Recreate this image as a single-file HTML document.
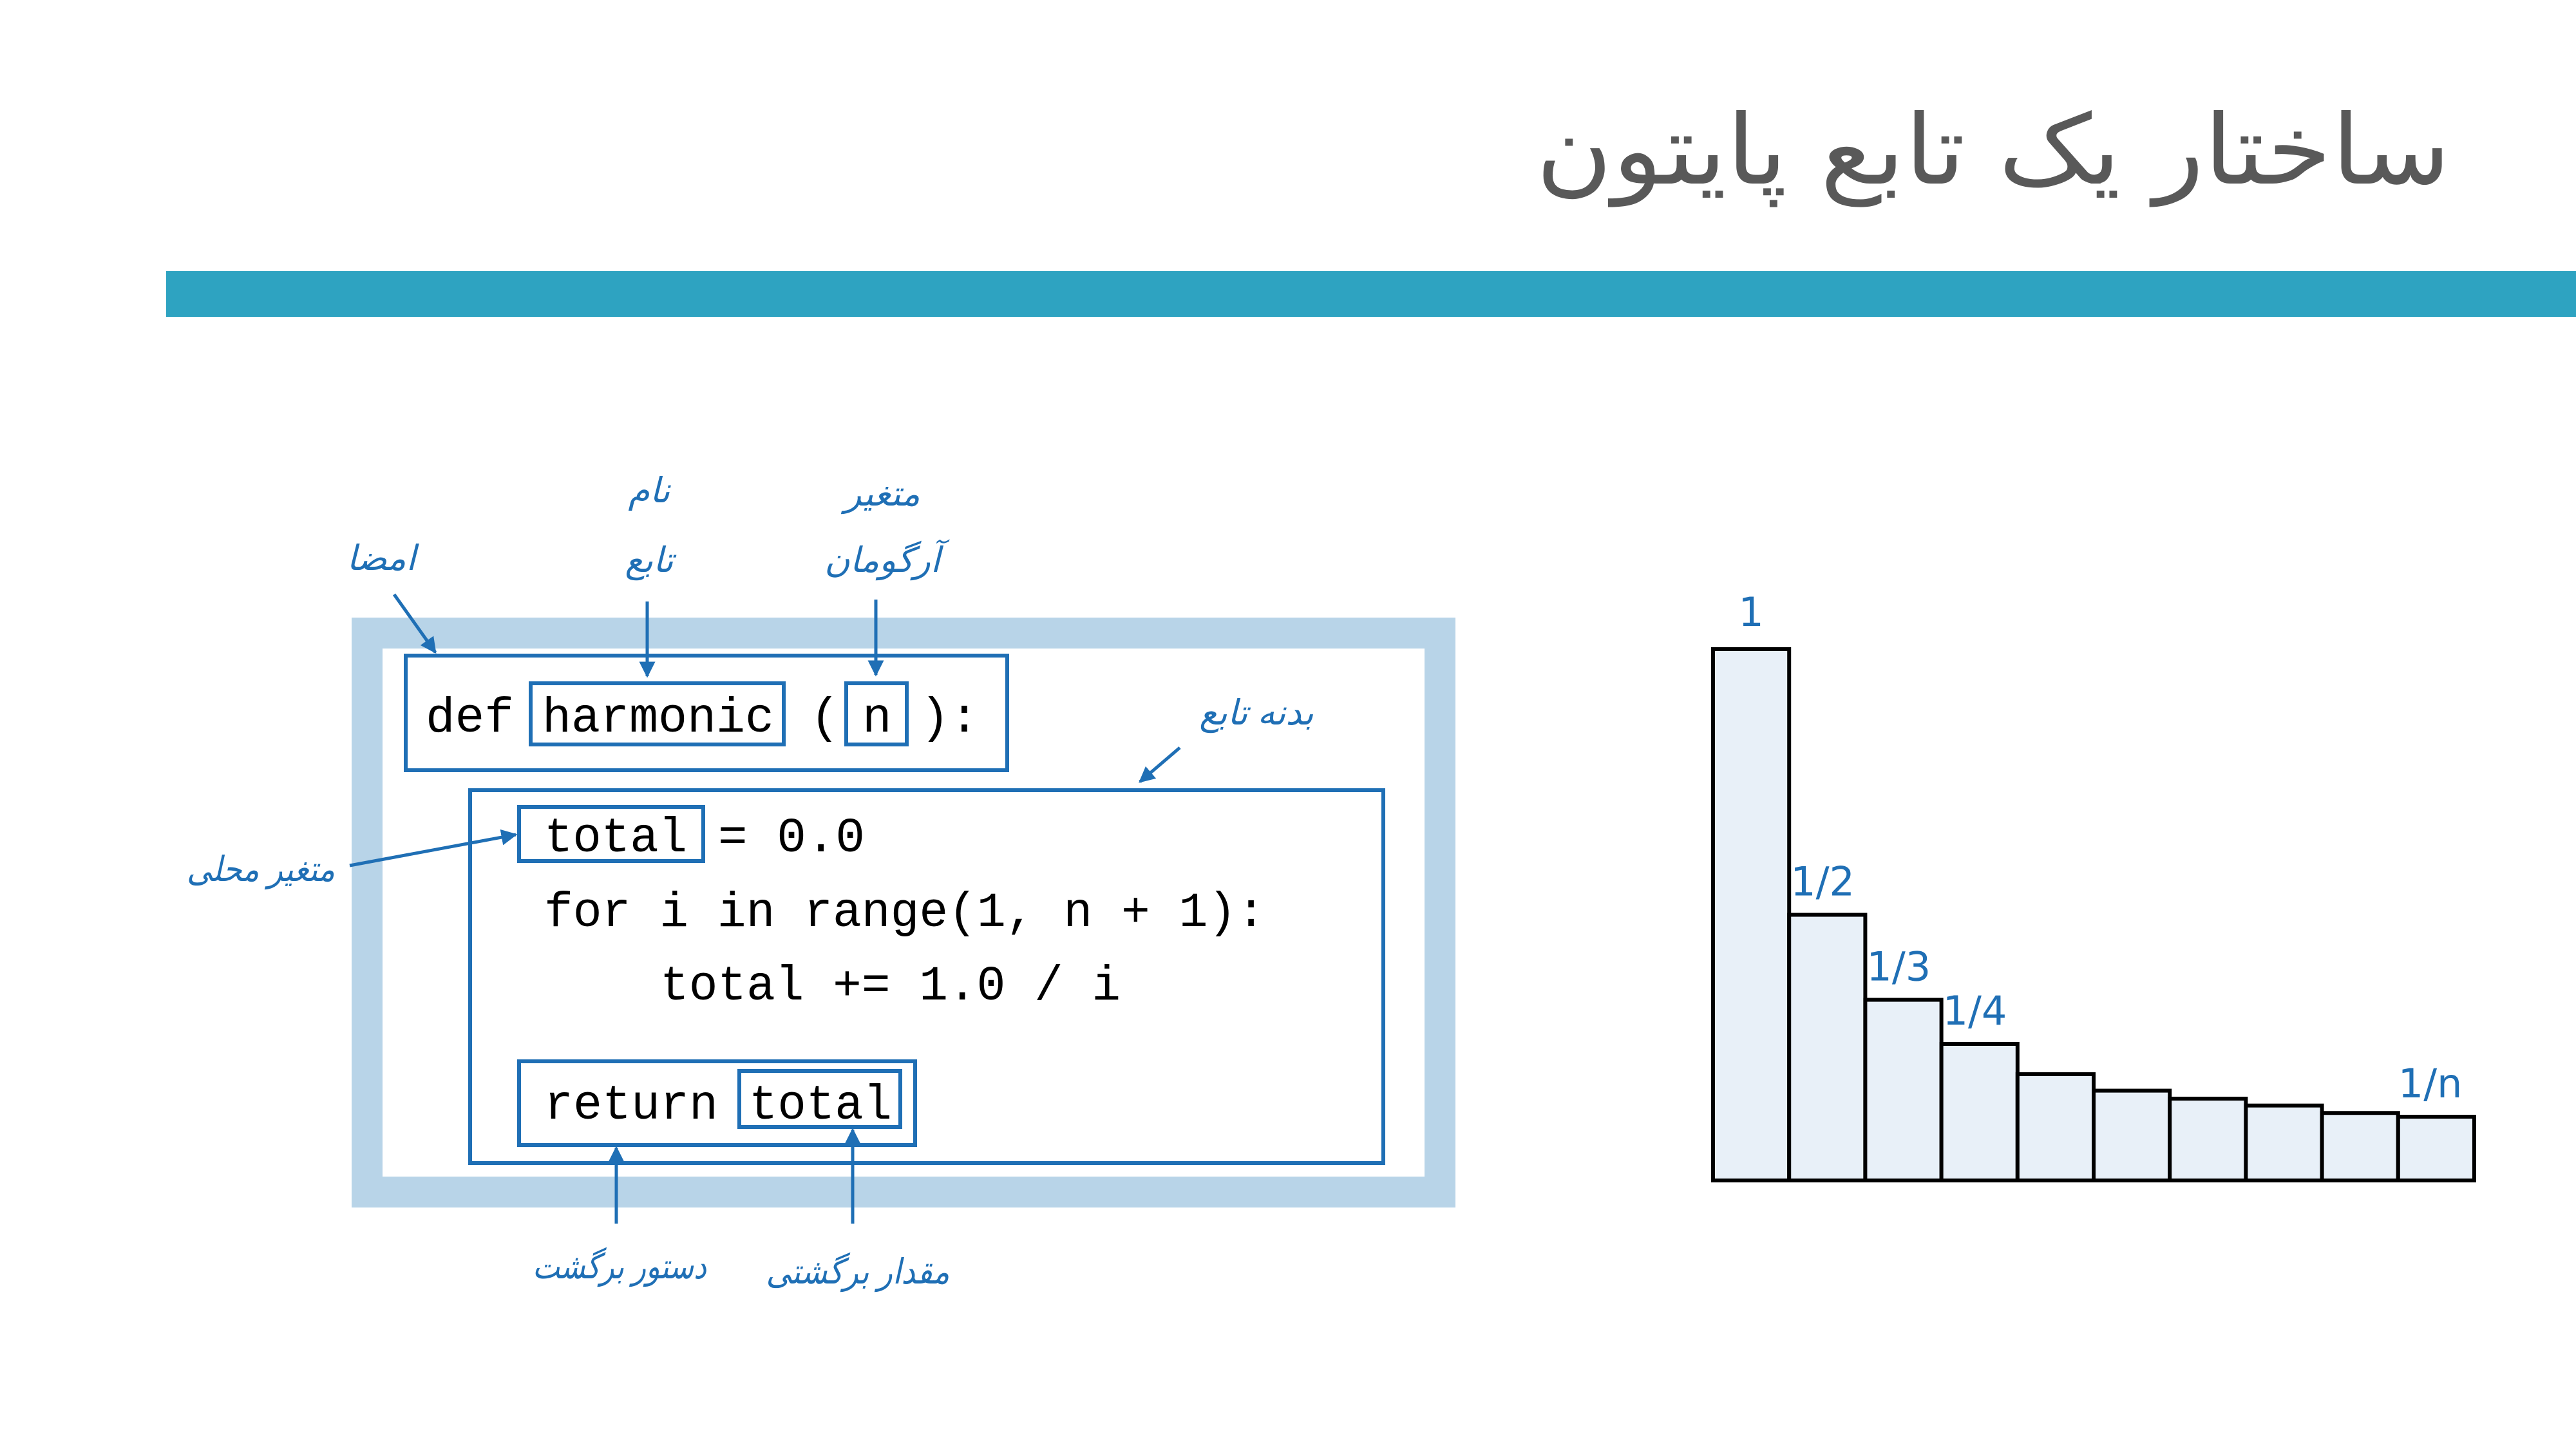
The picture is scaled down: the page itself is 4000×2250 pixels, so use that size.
<!DOCTYPE html>
<html><head><meta charset="utf-8">
<style>
html,body{margin:0;padding:0;background:#fff;}
svg{display:block;}
.fa{font-family:"Liberation Sans","DejaVu Sans",sans-serif;fill:#1f6fb5;font-style:italic;}
.code{font-family:"Liberation Mono","DejaVu Sans Mono",monospace;fill:#000;font-size:76px;}
</style></head>
<body>
<svg id="root" width="4000" height="2250" viewBox="0 0 4000 2250" xmlns="http://www.w3.org/2000/svg">
<defs>
<marker id="ar" viewBox="0 0 10 10" refX="9" refY="5" markerWidth="5" markerHeight="5" orient="auto-start-reverse">
<path d="M0,0 L10,5 L0,10 z" fill="#1f6fb5"/></marker>
</defs>
<text x="3805" y="285" text-anchor="end" font-family="'DejaVu Sans',sans-serif" font-size="150" fill="#595959" textLength="1420" lengthAdjust="spacingAndGlyphs">ساختار یک تابع پایتون</text>
<rect x="258" y="421" width="3742" height="71" fill="#2ea3c1"/>

<g>
<rect x="570" y="983" width="1666" height="868" fill="none" stroke="#b8d4e8" stroke-width="48"/>
<rect x="630" y="1018" width="934" height="178" fill="none" stroke="#1f6fb5" stroke-width="6"/>
<rect x="824" y="1061" width="393" height="95" fill="none" stroke="#1f6fb5" stroke-width="6"/>
<rect x="1314" y="1061" width="94" height="95" fill="none" stroke="#1f6fb5" stroke-width="6"/>
<rect x="730" y="1227" width="1418" height="579" fill="none" stroke="#1f6fb5" stroke-width="6"/>
<rect x="806" y="1253" width="286" height="84" fill="none" stroke="#1f6fb5" stroke-width="6"/>
<rect x="806" y="1648" width="615" height="130" fill="none" stroke="#1f6fb5" stroke-width="6"/>
<rect x="1148" y="1663" width="250" height="87" fill="none" stroke="#1f6fb5" stroke-width="6"/>

<text class="code" x="661" y="1136">def</text>
<text class="code" x="842" y="1136" textLength="360" lengthAdjust="spacingAndGlyphs">harmonic</text>
<text class="code" x="1258" y="1136">(</text>
<text class="code" x="1339" y="1136">n</text>
<text class="code" x="1429" y="1136">):</text>
<text class="code" x="845" y="1322" textLength="222" lengthAdjust="spacingAndGlyphs">total</text>
<text class="code" x="1115" y="1322">= 0.0</text>
<text class="code" x="845" y="1438" textLength="1120" lengthAdjust="spacingAndGlyphs">for i in range(1, n + 1):</text>
<text class="code" x="1025" y="1552" textLength="715" lengthAdjust="spacingAndGlyphs">total += 1.0 / i</text>
<text class="code" x="845" y="1737" textLength="270" lengthAdjust="spacingAndGlyphs">return</text>
<text class="code" x="1163" y="1737" textLength="222" lengthAdjust="spacingAndGlyphs">total</text>

<g stroke="#1f6fb5" stroke-width="5" fill="none" marker-end="url(#ar)">
<line x1="612" y1="923" x2="676" y2="1013"/>
<line x1="1005" y1="934" x2="1005" y2="1050"/>
<line x1="1360" y1="931" x2="1360" y2="1048"/>
<line x1="1832" y1="1161" x2="1770" y2="1214"/>
<line x1="543" y1="1344" x2="801" y2="1296"/>
<line x1="957" y1="1900" x2="957" y2="1782"/>
<line x1="1324" y1="1900" x2="1324" y2="1754"/>
</g>
<g font-size="54" text-anchor="middle">
<text class="fa" x="592" y="885">امضا</text>
<text class="fa" x="1008" y="780">نام</text>
<text class="fa" x="1008" y="888">تابع</text>
<text class="fa" x="1370" y="785">متغیر</text>
<text class="fa" x="1370" y="888">آرگومان</text>
<text class="fa" x="1951" y="1125">بدنه تابع</text>
<text class="fa" x="405" y="1368" textLength="230" lengthAdjust="spacingAndGlyphs">متغیر محلی</text>
<text class="fa" x="962" y="1985" textLength="270" lengthAdjust="spacingAndGlyphs">دستور برگشت</text>
<text class="fa" x="1332" y="1993" textLength="285" lengthAdjust="spacingAndGlyphs">مقدار برگشتی</text>
</g>
</g>

<g id="chart"></g>
</svg>
<script>
const categories = ["1","2","3","4","5","6","7","8","9","10"];
const values = [1, 0.5, 0.34, 0.257, 0.2, 0.169, 0.154, 0.141, 0.127, 0.12];
const barLabels = ["1","1/2","1/3","1/4","","","","","","1/n"];

const NS = "http://www.w3.org/2000/svg";
const g = document.getElementById('chart');
const x0 = 2660, x1 = 3842, yBase = 1833, yTop = 1008;
const bw = (x1 - x0) / categories.length;
const xPos = i => x0 + i * bw;
const yPos = v => yBase - v * (yBase - yTop);
categories.forEach((c, i) => {
  const r = document.createElementNS(NS, 'rect');
  
  
  r.setAttribute('x', xPos(i));
  r.setAttribute('y', yPos(values[i]));
  r.setAttribute('width', bw);
  r.setAttribute('height', yBase - yPos(values[i]));
  r.setAttribute('fill', '#e8f0f8');
  r.setAttribute('stroke', '#000');
  r.setAttribute('stroke-width', '6');
  g.appendChild(r);
  if (barLabels[i]) {
    const t = document.createElementNS(NS, 'text');
    
    
    const first = i === 0;
    t.setAttribute('x', first ? xPos(i) + bw / 2 : (i === categories.length - 1 ? xPos(i) : xPos(i) + 2));
    t.setAttribute('y', yPos(values[i]) - (first ? 36 : 30));
    if (first) t.setAttribute('text-anchor', 'middle');
    t.setAttribute('font-family', '"DejaVu Sans", sans-serif');
    t.setAttribute('font-size', '62');
    t.setAttribute('fill', '#1f6fb5');
    t.textContent = barLabels[i];
    g.appendChild(t);
  }
});
</script>
</body></html>
